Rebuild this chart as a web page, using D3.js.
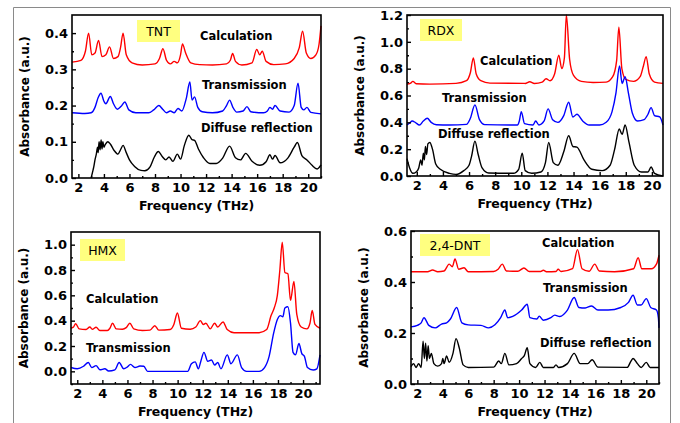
<!DOCTYPE html>
<html>
<head>
<meta charset="utf-8">
<script src="https://cdn.jsdelivr.net/npm/d3@7.9.0/dist/d3.min.js"></script>
<style>
  body { margin: 0; background: #fff; }
  svg { display: block; }
  text { font-family: "DejaVu Sans", sans-serif; fill: #000; }
</style>
</head>
<body>
<svg id="chart" width="680" height="423"></svg>
<script>
// ---------- data: [frequency THz, absorbance a.u.] ----------

const tntCalc = [[1.5,0.32],[2.2,0.325],[2.55,0.35],[2.8,0.40],[3.05,0.34],[3.3,0.345],[3.58,0.38],[3.85,0.335],[4.15,0.34],[4.44,0.362],[4.75,0.33],[5.1,0.335],[5.3,0.36],[5.5,0.40],[5.75,0.34],[6.2,0.318],[7.0,0.312],[8.0,0.315],[8.35,0.33],[8.62,0.357],[8.9,0.325],[9.2,0.315],[9.5,0.322],[9.75,0.318],[10.0,0.34],[10.15,0.37],[10.4,0.345],[10.8,0.318],[11.5,0.313],[12.5,0.312],[13.6,0.315],[13.9,0.325],[14.08,0.344],[14.3,0.322],[14.8,0.312],[15.6,0.318],[15.97,0.355],[16.2,0.34],[16.4,0.35],[16.7,0.322],[17.3,0.313],[18.2,0.315],[18.9,0.33],[19.3,0.36],[19.56,0.405],[19.85,0.345],[20.2,0.33],[20.6,0.34],[20.85,0.37],[21.0,0.42]];

const tntTrans = [[1.5,0.18],[2.5,0.178],[3.0,0.18],[3.3,0.195],[3.55,0.222],[3.77,0.234],[4.0,0.212],[4.15,0.205],[4.5,0.225],[4.75,0.205],[5.05,0.19],[5.35,0.198],[5.64,0.21],[5.95,0.188],[6.5,0.18],[7.5,0.18],[7.9,0.188],[8.3,0.2],[8.6,0.19],[8.9,0.18],[9.2,0.185],[9.5,0.18],[9.8,0.192],[10.1,0.185],[10.45,0.22],[10.73,0.265],[10.9,0.215],[11.1,0.224],[11.35,0.195],[11.7,0.183],[12.5,0.18],[13.3,0.185],[13.6,0.2],[13.84,0.215],[14.1,0.195],[14.4,0.182],[14.9,0.185],[15.2,0.197],[15.5,0.183],[16.5,0.18],[16.8,0.185],[17.0,0.195],[17.2,0.19],[17.4,0.2],[17.8,0.185],[18.5,0.182],[18.9,0.2],[19.2,0.262],[19.45,0.195],[19.65,0.188],[19.9,0.195],[20.2,0.181],[21.0,0.177]];

const tntDiffuse = [[3.0,0.0],[3.1,0.015],[3.2,0.03],[3.3,0.05],[3.4,0.065],[3.5,0.085],[3.55,0.07],[3.62,0.1],[3.7,0.078],[3.78,0.105],[3.85,0.08],[3.92,0.1],[4.0,0.085],[4.1,0.092],[4.3,0.1],[4.5,0.094],[4.8,0.076],[5.1,0.066],[5.3,0.078],[5.5,0.09],[5.75,0.07],[6.0,0.05],[6.4,0.032],[6.9,0.021],[7.2,0.02],[7.6,0.03],[7.95,0.058],[8.26,0.073],[8.55,0.06],[8.85,0.05],[9.1,0.058],[9.4,0.046],[9.75,0.066],[10.0,0.052],[10.3,0.09],[10.65,0.118],[10.9,0.106],[11.1,0.104],[11.4,0.08],[11.8,0.056],[12.3,0.04],[12.8,0.04],[13.3,0.055],[13.84,0.088],[14.3,0.056],[14.7,0.05],[15.1,0.068],[15.6,0.046],[16.2,0.035],[16.7,0.045],[17.0,0.064],[17.2,0.052],[17.4,0.062],[17.8,0.042],[18.4,0.055],[18.9,0.085],[19.15,0.098],[19.5,0.062],[19.9,0.05],[20.3,0.035],[20.7,0.025],[21.0,0.036]];

const rdxCalc = [[1.25,0.685],[1.5,0.69],[1.7,0.705],[1.95,0.688],[3.0,0.685],[5.0,0.69],[5.8,0.71],[6.1,0.77],[6.33,0.88],[6.55,0.76],[6.9,0.71],[7.6,0.692],[10.3,0.69],[10.65,0.703],[11.0,0.69],[11.6,0.7],[11.9,0.725],[12.2,0.71],[12.55,0.76],[12.87,0.9],[13.1,0.8],[13.3,0.88],[13.45,1.2],[13.7,0.87],[14.0,0.75],[14.6,0.705],[15.5,0.697],[16.5,0.7],[17.0,0.74],[17.3,0.86],[17.47,1.11],[17.7,0.8],[18.0,0.72],[18.6,0.705],[19.1,0.74],[19.35,0.82],[19.56,0.89],[19.8,0.76],[20.2,0.7],[20.85,0.69]];

const rdxTrans = [[1.25,0.38],[1.45,0.395],[1.65,0.41],[1.9,0.398],[2.2,0.38],[2.5,0.41],[2.8,0.43],[3.1,0.4],[3.5,0.382],[4.5,0.38],[5.8,0.385],[6.1,0.43],[6.45,0.53],[6.8,0.42],[7.2,0.383],[9.7,0.38],[9.85,0.41],[10.0,0.48],[10.25,0.39],[10.9,0.38],[11.1,0.41],[11.35,0.38],[11.75,0.41],[12.05,0.5],[12.4,0.42],[12.8,0.4],[13.25,0.45],[13.63,0.55],[13.95,0.44],[14.26,0.46],[14.7,0.41],[15.2,0.38],[16.0,0.38],[16.5,0.4],[16.95,0.48],[17.25,0.62],[17.52,0.82],[17.72,0.69],[17.95,0.74],[18.2,0.62],[18.5,0.47],[18.9,0.41],[19.4,0.42],[19.7,0.46],[19.94,0.51],[20.2,0.45],[20.6,0.44],[20.85,0.38]];

const rdxDiffuse = [[1.25,0.13],[1.45,0.06],[1.7,0.02],[1.95,0.03],[2.15,0.06],[2.3,0.12],[2.4,0.08],[2.5,0.17],[2.58,0.12],[2.66,0.22],[2.75,0.16],[2.85,0.24],[3.0,0.25],[3.2,0.2],[3.45,0.09],[3.8,0.05],[4.5,0.02],[5.0,0.012],[5.6,0.04],[6.0,0.08],[6.2,0.15],[6.45,0.26],[6.7,0.16],[7.0,0.06],[7.5,0.022],[9.4,0.02],[9.8,0.05],[10.07,0.17],[10.3,0.04],[10.8,0.02],[11.5,0.03],[11.85,0.1],[12.1,0.25],[12.45,0.1],[12.8,0.08],[13.25,0.18],[13.63,0.3],[13.95,0.22],[14.26,0.215],[14.8,0.12],[15.4,0.05],[16.2,0.04],[16.8,0.08],[17.15,0.2],[17.5,0.35],[17.72,0.31],[17.95,0.38],[18.25,0.25],[18.65,0.08],[19.2,0.03],[19.7,0.03],[19.94,0.067],[20.2,0.02],[20.85,0.0]];

const hmxCalc = [[1.5,0.34],[1.7,0.35],[1.87,0.376],[2.15,0.335],[2.7,0.33],[3.0,0.35],[3.2,0.332],[3.5,0.348],[3.8,0.322],[4.4,0.322],[4.6,0.34],[4.81,0.38],[5.1,0.335],[5.6,0.332],[5.9,0.345],[6.19,0.38],[6.5,0.335],[7.2,0.322],[7.8,0.325],[8.18,0.36],[8.5,0.325],[9.4,0.33],[9.7,0.37],[9.98,0.46],[10.3,0.34],[11.0,0.332],[11.45,0.35],[11.81,0.4],[12.05,0.37],[12.25,0.38],[12.6,0.335],[12.95,0.38],[13.2,0.35],[13.62,0.39],[13.95,0.33],[14.5,0.305],[16.5,0.305],[17.1,0.33],[17.45,0.44],[17.7,0.5],[17.95,0.6],[18.15,0.8],[18.34,1.02],[18.55,0.78],[18.79,0.77],[19.0,0.56],[19.27,0.71],[19.5,0.45],[19.85,0.35],[20.3,0.335],[20.55,0.38],[20.73,0.48],[20.95,0.37],[21.35,0.34]];

const hmxTrans = [[1.5,0.03],[2.0,0.02],[2.5,0.04],[2.88,0.07],[3.15,0.03],[3.5,0.045],[3.8,0.012],[4.2,0.02],[4.5,0.003],[5.0,0.012],[5.34,0.07],[5.7,0.02],[6.0,0.035],[6.24,0.055],[6.6,0.03],[7.0,0.042],[7.3,0.04],[7.6,0.0],[10.8,0.0],[11.1,0.06],[11.4,0.075],[11.65,0.02],[11.85,0.08],[12.1,0.15],[12.4,0.08],[12.7,0.09],[12.95,0.05],[13.2,0.07],[13.45,0.02],[13.96,0.13],[14.25,0.06],[14.76,0.13],[15.1,0.03],[15.5,0.0],[16.5,0.0],[16.93,0.03],[17.3,0.12],[17.65,0.3],[17.95,0.41],[18.2,0.44],[18.39,0.43],[18.55,0.5],[18.79,0.51],[19.0,0.38],[19.2,0.15],[19.4,0.13],[19.67,0.22],[19.9,0.14],[20.1,0.12],[20.35,0.03],[20.8,0.01],[21.1,0.02],[21.35,0.13]];

const dntCalc = [[1.5,0.44],[2.8,0.44],[3.2,0.447],[3.6,0.44],[4.1,0.443],[4.5,0.47],[4.75,0.46],[4.96,0.49],[5.25,0.45],[5.67,0.456],[6.0,0.44],[8.0,0.441],[8.35,0.45],[8.68,0.47],[9.0,0.443],[9.9,0.442],[10.38,0.455],[10.8,0.441],[11.7,0.441],[11.9,0.446],[12.2,0.44],[12.9,0.441],[13.07,0.45],[13.3,0.441],[14.2,0.452],[14.59,0.527],[14.95,0.452],[15.5,0.442],[15.95,0.47],[16.3,0.443],[17.5,0.44],[19.0,0.452],[19.36,0.495],[19.65,0.452],[20.4,0.452],[20.8,0.47],[21.0,0.505]];

const dntTrans = [[1.5,0.224],[2.0,0.23],[2.3,0.24],[2.52,0.26],[2.9,0.23],[3.4,0.22],[3.9,0.235],[4.3,0.24],[4.6,0.255],[5.09,0.3],[5.5,0.24],[6.0,0.232],[7.0,0.23],[7.6,0.22],[8.1,0.232],[8.55,0.26],[8.88,0.29],[9.1,0.26],[9.5,0.265],[10.2,0.29],[10.64,0.313],[10.85,0.26],[11.4,0.255],[11.58,0.266],[11.9,0.25],[12.5,0.26],[12.8,0.27],[13.2,0.265],[13.8,0.29],[14.33,0.339],[14.7,0.3],[15.2,0.298],[15.69,0.306],[16.2,0.29],[17.0,0.29],[18.0,0.3],[18.6,0.32],[18.96,0.348],[19.3,0.31],[19.6,0.31],[20.0,0.335],[20.35,0.3],[20.8,0.29],[20.95,0.26],[21.0,0.22]];

const dntDiffuse = [[1.5,0.068],[1.7,0.08],[1.9,0.065],[2.1,0.08],[2.3,0.065],[2.45,0.168],[2.55,0.1],[2.65,0.16],[2.75,0.09],[2.85,0.15],[2.95,0.1],[3.1,0.12],[3.3,0.08],[3.6,0.07],[3.9,0.08],[4.0,0.1],[4.1,0.08],[4.3,0.11],[4.5,0.085],[4.8,0.12],[5.04,0.178],[5.3,0.14],[5.6,0.075],[6.0,0.065],[8.0,0.066],[8.4,0.09],[8.6,0.08],[8.88,0.12],[9.2,0.075],[9.8,0.08],[10.2,0.1],[10.4,0.11],[10.64,0.142],[10.85,0.08],[11.3,0.065],[11.63,0.085],[11.9,0.065],[12.7,0.065],[12.9,0.075],[13.1,0.065],[13.8,0.08],[14.33,0.12],[14.8,0.08],[15.4,0.08],[15.74,0.095],[16.2,0.066],[18.5,0.065],[18.8,0.09],[18.96,0.1],[19.3,0.08],[19.6,0.065],[20.0,0.085],[20.3,0.065],[21.0,0.065]];

// axis tick values
const freqMajor = [2, 4, 6, 8, 10, 12, 14, 16, 18, 20];
const freqMinor = [3, 5, 7, 9, 11, 13, 15, 17, 19, 21];
const tntYMajor = [0, 0.1, 0.2, 0.3, 0.4];
const tntYMinor = [0.05, 0.15, 0.25, 0.35];
const rdxYMajor = [0, 0.2, 0.4, 0.6, 0.8, 1.0, 1.2];
const rdxYMinor = [0.1, 0.3, 0.5, 0.7, 0.9, 1.1];
const hmxYMajor = [0, 0.2, 0.4, 0.6, 0.8, 1.0];
const hmxYMinor = [-0.1, 0.1, 0.3, 0.5, 0.7, 0.9];
const dntYMajor = [0, 0.2, 0.4, 0.6];
const dntYMinor = [0.1, 0.3, 0.5];

// ---------- drawing ----------

const svg = d3.select("#chart");
const colors = { calc: "#ff0000", trans: "#0000ff", diffuse: "#000000" };

// outer grey frame
svg.append("path")
  .attr("d", "M13.5,423 V7.5 H670.5 V423")
  .attr("fill", "none")
  .attr("stroke", "#8a8a8a")
  .attr("stroke-width", 1);

function drawPanel(cfg) {
  const x = d3.scaleLinear().domain(cfg.xDomain).range([cfg.left, cfg.right]);
  const y = d3.scaleLinear().domain(cfg.yDomain).range([cfg.bottom, cfg.top]);
  const g = svg.append("g");

  // curves
  const line = d3.line()
    .x((d) => x(d[0]))
    .y((d) => y(d[1]))
    .curve(d3.curveMonotoneX);

  cfg.series.forEach((s) => {
    g.append("path")
      .datum(s.data)
      .attr("d", line)
      .attr("fill", "none")
      .attr("stroke", s.color)
      .attr("stroke-width", 1.4)
      .attr("stroke-linejoin", "round");
  });

  // frame
  g.append("rect")
    .attr("x", cfg.left)
    .attr("y", cfg.top)
    .attr("width", cfg.right - cfg.left)
    .attr("height", cfg.bottom - cfg.top)
    .attr("fill", "none")
    .attr("stroke", "#000")
    .attr("stroke-width", 1.6);

  // x axis (ticks inward)
  const xAxis = g.append("g").attr("transform", `translate(0,${cfg.bottom})`)
    .call(d3.axisBottom(x).tickValues(freqMajor).tickSize(-4).tickPadding(5).tickFormat(d3.format("d")));
  xAxis.select(".domain").remove();
  xAxis.selectAll("line").attr("stroke-width", 1.4);
  xAxis.selectAll("text")
    .attr("font-size", 13).attr("font-weight", "bold")
    .attr("font-family", "DejaVu Sans, sans-serif");

  g.append("g").attr("transform", `translate(0,${cfg.bottom})`)
    .call(d3.axisBottom(x).tickValues(freqMinor.filter((v) => v <= cfg.xDomain[1])).tickSize(-2).tickFormat(""))
    .call((a) => a.select(".domain").remove())
    .selectAll("line").attr("stroke-width", 1.4);

  // y axis (ticks inward)
  const yAxis = g.append("g").attr("transform", `translate(${cfg.left},0)`)
    .call(d3.axisLeft(y).tickValues(cfg.yMajor).tickSize(-4).tickPadding(4).tickFormat(d3.format(".1f")));
  yAxis.select(".domain").remove();
  yAxis.selectAll("line").attr("stroke-width", 1.4);
  yAxis.selectAll("text")
    .attr("font-size", 13).attr("font-weight", "bold")
    .attr("font-family", "DejaVu Sans, sans-serif");

  g.append("g").attr("transform", `translate(${cfg.left},0)`)
    .call(d3.axisLeft(y).tickValues(cfg.yMinor).tickSize(-2).tickFormat(""))
    .call((a) => a.select(".domain").remove())
    .selectAll("line").attr("stroke-width", 1.4);

  // axis titles
  g.append("text")
    .attr("x", (cfg.left + cfg.right) / 2)
    .attr("y", cfg.bottom + 32)
    .attr("text-anchor", "middle")
    .attr("font-size", 12.5).attr("font-weight", "bold")
    .text("Frequency (THz)");

  g.append("text")
    .attr("transform", `translate(${cfg.left - 43},${(cfg.top + cfg.bottom) / 2}) rotate(-90)`)
    .attr("text-anchor", "middle")
    .attr("font-size", 12).attr("font-weight", "bold")
    .text("Absorbance (a.u.)");

  // compound tag
  const t = cfg.tag;
  g.append("rect")
    .attr("x", t.x).attr("y", t.y).attr("width", t.w).attr("height", 22)
    .attr("fill", "#ffff80");
  g.append("text")
    .attr("x", t.x + t.w / 2).attr("y", t.y + 16)
    .attr("text-anchor", "middle")
    .attr("font-size", 12.5)
    .text(t.text);

  // series labels
  cfg.labels.forEach((l) => {
    g.append("text")
      .attr("x", l.x).attr("y", l.y)
      .attr("font-size", 11.5).attr("font-weight", "bold")
      .text(l.text);
  });
}

drawPanel({
  left: 72, right: 321, top: 15, bottom: 178,
  xDomain: [1.5, 21.0], yDomain: [0, 0.45],
  yMajor: tntYMajor, yMinor: tntYMinor,
  series: [
    { data: tntCalc, color: colors.calc },
    { data: tntTrans, color: colors.trans },
    { data: tntDiffuse, color: colors.diffuse },
  ],
  tag: { text: "TNT", x: 137, y: 20, w: 43 },
  labels: [
    { text: "Calculation", x: 200, y: 40 },
    { text: "Transmission", x: 202, y: 89 },
    { text: "Diffuse reflection", x: 201, y: 132 },
  ],
});

drawPanel({
  left: 407, right: 663, top: 15, bottom: 176,
  xDomain: [1.25, 20.85], yDomain: [0, 1.2],
  yMajor: rdxYMajor, yMinor: rdxYMinor,
  series: [
    { data: rdxCalc, color: colors.calc },
    { data: rdxTrans, color: colors.trans },
    { data: rdxDiffuse, color: colors.diffuse },
  ],
  tag: { text: "RDX", x: 420, y: 19, w: 42 },
  labels: [
    { text: "Calculation", x: 480, y: 65 },
    { text: "Transmission", x: 442, y: 102 },
    { text: "Diffuse reflection", x: 438, y: 138 },
  ],
});

drawPanel({
  left: 71, right: 320, top: 232, bottom: 384,
  xDomain: [1.5, 21.35], yDomain: [-0.1, 1.1],
  yMajor: hmxYMajor, yMinor: hmxYMinor,
  series: [
    { data: hmxCalc, color: colors.calc },
    { data: hmxTrans, color: colors.trans },
  ],
  tag: { text: "HMX", x: 80, y: 239, w: 45 },
  labels: [
    { text: "Calculation", x: 86, y: 303 },
    { text: "Transmission", x: 86, y: 352 },
  ],
});

drawPanel({
  left: 411, right: 659, top: 231, bottom: 384,
  xDomain: [1.5, 21.0], yDomain: [0, 0.6],
  yMajor: dntYMajor, yMinor: dntYMinor,
  series: [
    { data: dntCalc, color: colors.calc },
    { data: dntTrans, color: colors.trans },
    { data: dntDiffuse, color: colors.diffuse },
  ],
  tag: { text: "2,4-DNT", x: 420, y: 234, w: 70 },
  labels: [
    { text: "Calculation", x: 542, y: 247 },
    { text: "Transmission", x: 543, y: 292 },
    { text: "Diffuse reflection", x: 540, y: 347 },
  ],
});
</script>
</body>
</html>
